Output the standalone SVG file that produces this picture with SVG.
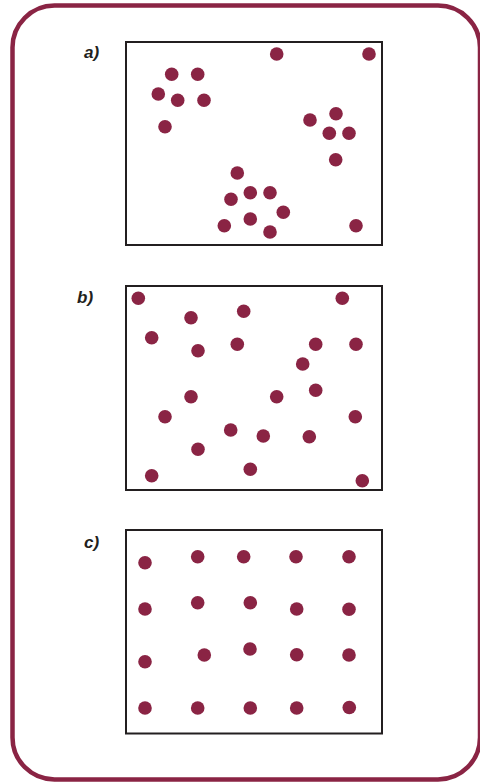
<svg xmlns="http://www.w3.org/2000/svg" width="480" height="783" viewBox="0 0 480 783">
<style>
.frame{fill:none;stroke:#8a2444;stroke-width:4.5}
.box{fill:#fff;stroke:#231f20;stroke-width:2}
.lbl{font-family:"Liberation Sans",Arial,sans-serif;font-size:17px;font-weight:bold;font-style:italic;fill:#231f20}
.d{fill:#8a2444}
</style>
<rect width="480" height="783" fill="#fff"/>
<rect class="frame" x="12.5" y="5.5" width="467.5" height="774" rx="42" ry="42"/>
<g id="panel-a">
<text class="lbl" x="84" y="58">a)</text>
<rect class="box" x="126" y="42" width="256" height="203"/>
<g class="d">
<circle cx="276.7" cy="54" r="6.8"/><circle cx="369" cy="54" r="6.8"/>
<circle cx="171.7" cy="74.3" r="6.8"/><circle cx="197.7" cy="74.3" r="6.8"/>
<circle cx="158.3" cy="94" r="6.8"/><circle cx="177.7" cy="100.3" r="6.8"/><circle cx="204" cy="100.3" r="6.8"/>
<circle cx="165" cy="126.7" r="6.8"/>
<circle cx="310" cy="120" r="6.8"/><circle cx="336" cy="113.7" r="6.8"/><circle cx="329.3" cy="133.3" r="6.8"/><circle cx="349" cy="133.3" r="6.8"/><circle cx="335.7" cy="159.7" r="6.8"/>
<circle cx="237.3" cy="173" r="6.8"/><circle cx="250.3" cy="192.7" r="6.8"/><circle cx="270" cy="192.7" r="6.8"/><circle cx="231" cy="199.3" r="6.8"/><circle cx="283.3" cy="212.3" r="6.8"/><circle cx="250.3" cy="219" r="6.8"/><circle cx="224.3" cy="225.7" r="6.8"/><circle cx="270" cy="232" r="6.8"/>
<circle cx="356" cy="225.7" r="6.8"/>
</g>
</g>
<g id="panel-b">
<text class="lbl" x="77" y="303">b)</text>
<rect class="box" x="126" y="286" width="256" height="204"/>
<g class="d">
<circle cx="138.3" cy="298.3" r="6.8"/><circle cx="342.3" cy="298.3" r="6.8"/>
<circle cx="191" cy="317.7" r="6.8"/><circle cx="243.7" cy="311.3" r="6.8"/>
<circle cx="151.7" cy="337.7" r="6.8"/><circle cx="198" cy="350.7" r="6.8"/><circle cx="237.3" cy="344.3" r="6.8"/><circle cx="315.7" cy="344.3" r="6.8"/><circle cx="356" cy="344.3" r="6.8"/>
<circle cx="302.7" cy="364" r="6.8"/>
<circle cx="191" cy="396.7" r="6.8"/><circle cx="276.7" cy="396.7" r="6.8"/><circle cx="315.7" cy="390.3" r="6.8"/>
<circle cx="165" cy="416.7" r="6.8"/><circle cx="355.3" cy="416.7" r="6.8"/>
<circle cx="230.7" cy="430" r="6.8"/><circle cx="263.3" cy="436" r="6.8"/><circle cx="309.3" cy="436.7" r="6.8"/>
<circle cx="198" cy="449.3" r="6.8"/><circle cx="250.3" cy="469.3" r="6.8"/><circle cx="151.7" cy="475.7" r="6.8"/><circle cx="362.3" cy="480.7" r="6.8"/>
</g>
</g>
<g id="panel-c">
<text class="lbl" x="84" y="548">c)</text>
<rect class="box" x="126" y="530" width="256" height="203.5"/>
<g class="d">
<circle cx="145" cy="562.7" r="6.8"/><circle cx="197.7" cy="556.7" r="6.8"/><circle cx="243.7" cy="556.7" r="6.8"/><circle cx="296" cy="556.7" r="6.8"/><circle cx="349" cy="556.7" r="6.8"/>
<circle cx="145" cy="609" r="6.8"/><circle cx="197.7" cy="602.7" r="6.8"/><circle cx="250.3" cy="602.7" r="6.8"/><circle cx="296.7" cy="609" r="6.8"/><circle cx="349" cy="609.3" r="6.8"/>
<circle cx="145" cy="661.7" r="6.8"/><circle cx="204.3" cy="655" r="6.8"/><circle cx="250" cy="649" r="6.8"/><circle cx="296.7" cy="654.7" r="6.8"/><circle cx="349" cy="655" r="6.8"/>
<circle cx="145" cy="708" r="6.8"/><circle cx="197.7" cy="708" r="6.8"/><circle cx="250.3" cy="708" r="6.8"/><circle cx="296.7" cy="708" r="6.8"/><circle cx="349.3" cy="707.5" r="6.8"/>
</g>
</g>
</svg>
